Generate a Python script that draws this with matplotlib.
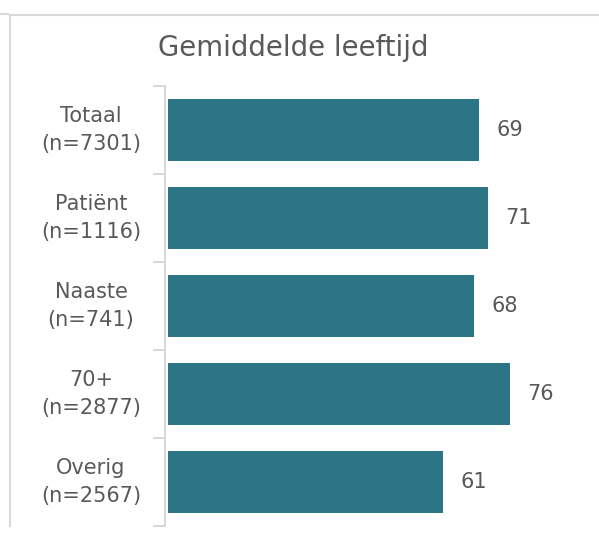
import numpy as np
import matplotlib.pyplot as plt
from matplotlib.lines import Line2D
from matplotlib.transforms import blended_transform_factory

categories = ["Totaal\n(n=7301)", "Patiënt\n(n=1116)", "Naaste\n(n=741)", "70+\n(n=2877)", "Overig\n(n=2567)"]
values = [69, 71, 68, 76, 61]

BAR_COLOR = "#2b7587"
TEXT_COLOR = "#595959"
LINE_COLOR = "#d9d9d9"

fig = plt.figure(figsize=(5.99, 5.52), dpi=100)
W, H = 599, 552

# axes placed in pixel terms: x0=168, spine from y=86 to y=526
ax = fig.add_axes([168 / W, 1 - 526 / H, (W - 168) / W, (526 - 86) / H])

pos = np.arange(len(categories))
ax.barh(pos, values, height=0.7, color=BAR_COLOR)
ax.set_ylim(len(categories) - 0.5, -0.5)
ax.set_xlim(0, (W - 168) / 4.5)

for p, v in zip(pos, values):
    ax.text(v + 6.9, p, str(v), va="center", ha="center", fontsize=15, color=TEXT_COLOR)

# category labels, centred left of the axis
trans = blended_transform_factory(fig.transFigure, ax.transData)
for p, c in zip(pos, categories):
    ax.text(91 / W, p, c, transform=trans, ha="center", va="center",
            fontsize=15, color=TEXT_COLOR, linespacing=1.5)

ax.set_yticks(np.arange(len(categories) + 1) - 0.5)
ax.set_yticklabels([])
ax.tick_params(axis="y", which="major", length=9, width=1.5, color=LINE_COLOR)
ax.set_xticks([])

for s in ["top", "right", "bottom"]:
    ax.spines[s].set_visible(False)
ax.spines["left"].set_color(LINE_COLOR)
ax.spines["left"].set_linewidth(1.5)
ax.spines["left"].set_position(("outward", 2))

fig.text(293 / W, 1 - 48 / H, "Gemiddelde leeftijd", ha="center", va="center",
         fontsize=19.8, color=TEXT_COLOR)

# chart frame lines
fig.add_artist(Line2D([10 / W, 1], [1 - 15 / H, 1 - 15 / H], color=LINE_COLOR, lw=1.5))
fig.add_artist(Line2D([0, 8 / W], [1 - 14 / H, 1 - 14 / H], color=LINE_COLOR, lw=1.5))
fig.add_artist(Line2D([10 / W, 10 / W], [1 - 15 / H, 1 - 526 / H], color=LINE_COLOR, lw=1.5))

fig.savefig("out.png", dpi=100)
